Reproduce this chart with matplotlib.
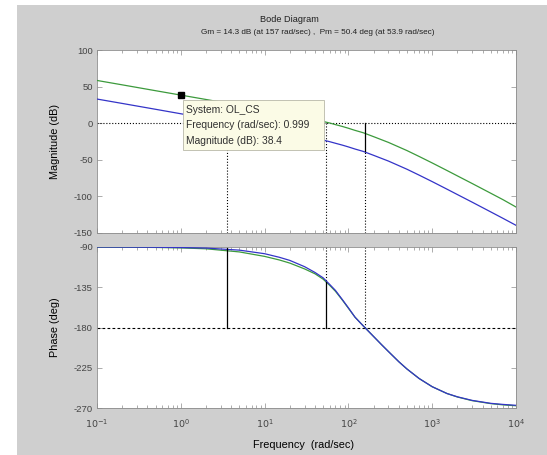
import matplotlib
matplotlib.use('Agg')
import matplotlib.pyplot as plt
from matplotlib.patches import Rectangle

# Bode diagram with stability margins, two open-loop systems

plt.rcParams['font.family'] = ['Liberation Sans', 'DejaVu Sans']
plt.rcParams['axes.unicode_minus'] = False

# Frequencies (rad/sec) and curves
freq = [0.1, 0.2, 0.5, 1, 2, 5, 10, 15, 20, 30, 40, 50, 60, 70, 85, 100, 120,
        150, 200, 250, 300, 400, 500, 700, 1000, 1500, 2000, 3000, 5000, 7000,
        10000]
green_mag = [58.4, 52.4, 44.4, 38.4, 32.4, 24.4, 18.3, 14.7, 12.0, 8.1, 5.1,
             2.4, 0.2, -1.9, -4.5, -6.9, -9.8, -13.0, -18.4, -22.7, -26.2,
             -32.5, -37.4, -45.5, -54.3, -64.6, -72.0, -82.4, -95.7, -104.5,
             -114.5]
blue_mag = [33.0, 27.0, 19.0, 12.9, 6.9, -1.1, -7.2, -10.8, -13.5, -17.4,
            -20.4, -23.1, -25.3, -27.4, -30.0, -32.4, -35.3, -38.5, -43.9,
            -48.2, -51.7, -58.0, -62.9, -71.0, -79.8, -90.1, -97.5, -107.9,
            -121.2, -130.0, -139.5]
green_phase = [-90.1, -90.2, -90.5, -91.0, -92.0, -95.5, -100.5, -104.5, -108,
               -114.5, -120, -126, -133, -139.5, -149.5, -158.5, -168.5, -178.1,
               -190.1, -199.4, -206.8, -218.3, -226.4, -237.1, -246.2, -253.8,
               -257.7, -261.8, -265.1, -266.5, -267.5]
blue_phase = [-90.0, -90.1, -90.3, -90.6, -91.2, -93.5, -97.5, -101.5, -105,
              -112, -118.5, -124.5, -132, -138.5, -149, -158, -168.5, -178.1,
              -190.1, -199.4, -206.8, -218.3, -226.4, -237.1, -246.2, -253.8,
              -257.5, -261.5, -264.8, -266.0, -267.0]

# Margin markers
wc_blue = 3.6        # blue gain crossover
wc_green = 53.9      # green gain crossover
w180 = 157           # phase crossover
blue_mag_w180 = -38.0
blue_phase_wc = -91.5
green_phase_wc = -129.6

# Data tip
tip_freq = 0.999
tip_mag = 38.4
tip_lines = ['System: OL_CS', 'Frequency (rad/sec): 0.999', 'Magnitude (dB): 38.4']

title1 = 'Bode Diagram'
title2 = 'Gm = 14.3 dB (at 157 rad/sec) ,  Pm = 50.4 deg (at 53.9 rad/sec)'

mag_ticks = [100, 50, 0, -50, -100, -150]
phase_ticks = [-90, -135, -180, -225, -270]
freq_ticks = [0.1, 1, 10, 100, 1000, 10000]
freq_labels = ['$10^{-1}$', '$10^{0}$', '$10^{1}$', '$10^{2}$', '$10^{3}$', '$10^{4}$']

W, H = 547, 455
fig = plt.figure(figsize=(W/100, H/100), dpi=100, facecolor='white')
fig.patches.append(Rectangle((17/W, 0), 1, (H-5)/H, transform=fig.transFigure,
                             facecolor='#cfcfcf', edgecolor='none', zorder=-10))

left = 97/W
width = (516-97)/W
ax_mag = fig.add_axes([left, 1-233/H, width, (233-50)/H])
ax_ph = fig.add_axes([left, 1-408/H, width, (408-247)/H])

green = '#3c9a3c'
blue = '#3434c8'
tcol = '#444444'
fs_tick = 6.8
fs_label = 7.8

for ax in (ax_mag, ax_ph):
    ax.set_xscale('log')
    ax.set_xlim(0.1, 10000)
    ax.set_facecolor('white')
    for s in ax.spines.values():
        s.set_color('#8c8c8c')
        s.set_linewidth(0.6)
    ax.tick_params(which='both', direction='in', top=True, right=True,
                   colors='#8c8c8c', labelcolor=tcol, labelsize=fs_tick, width=0.5)
    ax.tick_params(which='major', length=3.5, pad=3)
    ax.tick_params(which='minor', length=2)
    ax.set_xticks(freq_ticks)

# Magnitude
ax_mag.plot(freq, green_mag, color=green, lw=0.9, zorder=3)
ax_mag.plot(freq, blue_mag, color=blue, lw=0.9, zorder=3)
ax_mag.axhline(0, color='black', ls=':', lw=0.8, zorder=2)
ax_mag.plot([wc_blue, wc_blue], [-150, 0], color='black', ls=':', lw=0.8, zorder=2)
ax_mag.plot([wc_green, wc_green], [-150, 0], color='black', ls=':', lw=0.8, zorder=2)
ax_mag.plot([w180, w180], [-150, blue_mag_w180], color='black', ls=':', lw=0.8, zorder=2)
ax_mag.plot([w180, w180], [0, blue_mag_w180], color='black', lw=0.9, zorder=4)
ax_mag.set_ylim(-150, 100)
ax_mag.set_yticks(mag_ticks)
ax_mag.set_xticklabels([])
ax_mag.set_ylabel('Magnitude (dB)', fontsize=fs_label, color='black')
ax_mag.yaxis.set_label_coords(-0.088, 0.5)

# Data tip
ax_mag.plot([tip_freq], [tip_mag], 's', color='black', ms=4.5, zorder=6)
x0 = (183-97)/419
x1 = (324-97)/419
y1 = 1-(100-50)/183
y0 = 1-(150-50)/183
ax_mag.add_patch(Rectangle((x0, y0), x1-x0, y1-y0, transform=ax_mag.transAxes,
                           facecolor='#fbfbe6', edgecolor='#b8b8a8', lw=0.6, zorder=5))
for i, t in enumerate(tip_lines):
    ax_mag.text((186-97)/419, 1-(110+15.5*i-50)/183, t, transform=ax_mag.transAxes,
                fontsize=7.4, color='#303030', va='center', ha='left', zorder=6)

# Phase
ax_ph.plot(freq, green_phase, color=green, lw=0.9, zorder=3)
ax_ph.plot(freq, blue_phase, color=blue, lw=0.9, zorder=3)
ax_ph.axhline(-180, color='black', ls=(0, (2.5, 2)), lw=0.8, zorder=2)
ax_ph.plot([wc_blue, wc_blue], [-180, blue_phase_wc], color='black', lw=0.9, zorder=4)
ax_ph.plot([wc_green, wc_green], [-90, green_phase_wc], color='black', ls=':', lw=0.8, zorder=2)
ax_ph.plot([wc_green, wc_green], [-180, green_phase_wc], color='black', lw=0.9, zorder=4)
ax_ph.plot([w180, w180], [-90, -180], color='black', ls=':', lw=0.8, zorder=2)
ax_ph.set_ylim(-270, -90)
ax_ph.set_yticks(phase_ticks)
ax_ph.set_xticklabels(freq_labels)
ax_ph.tick_params(axis='x', which='major', pad=7)
ax_ph.set_ylabel('Phase (deg)', fontsize=fs_label, color='black')
ax_ph.yaxis.set_label_coords(-0.088, 0.5)
ax_ph.set_xlabel('Frequency  (rad/sec)', fontsize=fs_label, color='black')
ax_ph.xaxis.set_label_coords(0.492, -0.2)

fig.text(289/W, 1-20/H, title1, fontsize=6.6, ha='center', va='center', color='#202020')
fig.text(318/W, 1-33/H, title2, fontsize=5.9, ha='center', va='center', color='#202020')

fig.savefig('out.png', dpi=100, facecolor=fig.get_facecolor())
